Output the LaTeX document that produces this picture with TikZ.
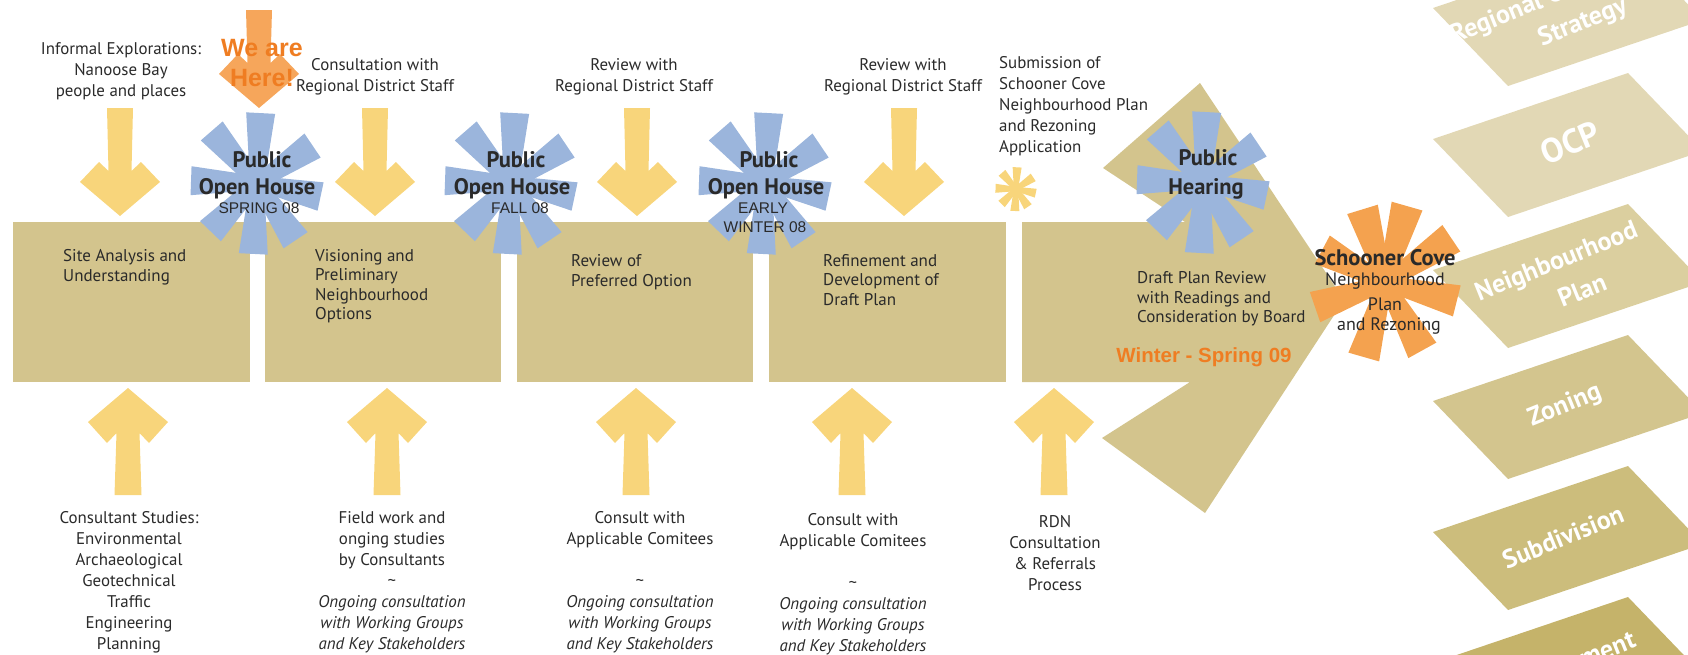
\documentclass[tikz,border=0pt]{standalone}
\usepackage{fontspec}
\setmainfont{PT Sans}
\newfontfamily\arialfont{Liberation Sans}
\definecolor{boxtan}{HTML}{D3C48D}
\definecolor{ylw}{HTML}{F8D57B}
\definecolor{blu}{HTML}{9BB5DC}
\definecolor{orgstar}{HTML}{F4A24F}
\definecolor{orgarrow}{HTML}{F6A65B}
\definecolor{orgtxt}{HTML}{EF7D22}
\definecolor{txt}{HTML}{2A2A2A}
\definecolor{pA}{HTML}{E2D8B5}
\definecolor{pB}{HTML}{DBCF9F}
\definecolor{pC}{HTML}{D3C58E}
\definecolor{pD}{HTML}{CCBD7C}
\definecolor{pE}{HTML}{C5B36A}
% fat down arrow: centre x, top y, tip y, colour
\newcommand\dnarrow[4]{\fill[#4] ({#1-13},#2) -- ({#1+13},#2) -- ({#1+11.5},{#3-45}) -- ({#1+21},{#3-54}) -- ({#1+40},{#3-34}) -- (#1,#3) -- ({#1-40},{#3-34}) -- ({#1-21},{#3-54}) -- ({#1-11.5},{#3-45}) -- cycle;}
% fat up arrow: centre x, bottom y, tip y, colour
\newcommand\uparr[4]{\fill[#4] ({#1-13.5},#2) -- ({#1+13.5},#2) -- ({#1+11.5},{#3+45}) -- ({#1+21},{#3+55}) -- ({#1+40},{#3+34}) -- (#1,#3) -- ({#1-40},{#3+34}) -- ({#1-21},{#3+55}) -- ({#1-11.5},{#3+45}) -- cycle;}
% star burst: centre, scale, colour, tip half width, list macro angle/length
\newcommand\burst[5]{\foreach \a/\r in #5 {\fill[#3,shift={#1},rotate=\a,scale=#2] (0,-7) -- (\r,-#4) -- (\r,#4) -- (0,7) -- cycle;}}
% slanted panel: left corner x, y, colour
\newcommand\panel[3]{\fill[#3] (#1,#2) -- ++(195,-66) -- ++(75,78) -- ++(-195,66) -- cycle;}
\def\bluelist{87/70, 34/67, -12/65, -56/69, -93/71, -134/67, 178/66, 131/69}
\def\orglist{107/77, 74/80, 34/80, -14/74, -61/77, -106/77, -161/74, 152/71}
\tikzset{
  body/.style={font=\fontsize{16.9}{21}\selectfont, text=txt, align=center, inner sep=0pt},
  boxlbl/.style={font=\fontsize{17}{19.5}\selectfont, text=txt, align=left, anchor=west, inner sep=0pt},
  sthead/.style={font=\bfseries\fontsize{22.5}{26}\selectfont, text=txt, inner sep=0pt},
  stsub/.style={font=\arialfont\fontsize{15.5}{19}\selectfont, text=txt, inner sep=0pt},
  orsub/.style={font=\fontsize{18}{22}\selectfont, text=txt, inner sep=0pt},
  ptxt/.style={font=\bfseries\fontsize{26}{29}\selectfont, text=white, rotate=22, inner sep=0pt},
  stagebox/.style={fill=boxtan, minimum height=160pt, anchor=north west, inner sep=0pt, draw=none},
}
\begin{document}
\begin{tikzpicture}[x=1pt,y=-1pt]
\useasboundingbox (0,0) rectangle (1688,654);
\clip (0,0) rectangle (1688,654);
% stage boxes
\node[stagebox, minimum width=237pt] (b1) at (13,222) {};
\node[stagebox, minimum width=236pt] (b2) at (265,222) {};
\node[stagebox, minimum width=236pt] (b3) at (517,222) {};
\node[stagebox, minimum width=237pt] (b4) at (769,222) {};
\fill[boxtan] (1022,222) -- (1185,222) -- (1103,168) -- (1200,83) -- (1344,300) -- (1205,513) -- (1102,438) -- (1190,382) -- (1022,382) -- cycle;
% yellow arrows
\dnarrow{120}{108}{216}{ylw}
\dnarrow{375}{108}{216}{ylw}
\dnarrow{637}{108}{216}{ylw}
\dnarrow{904}{108}{216}{ylw}
\uparr{128}{495}{388}{ylw}
\uparr{387}{495}{388}{ylw}
\uparr{636}{495}{388}{ylw}
\uparr{852}{495}{388}{ylw}
\uparr{1054}{495}{388}{ylw}
% right-hand panels
\panel{1433}{8}{pA}
\panel{1433}{139}{pA}
\panel{1433}{270}{pB}
\panel{1433}{401}{pC}
\panel{1433}{532}{pD}
\panel{1433}{663}{pE}
\node[ptxt] (rg1) at (1537,3) {Regional Growth};
\node[ptxt] (rg2) at (1583,23) {Strategy};
\node[ptxt, font=\bfseries\fontsize{34}{36}\selectfont] (ocp) at (1570,143) {OCP};
\node[ptxt] (np1) at (1557,263) {Neighbourhood};
\node[ptxt] (np2) at (1582,290) {Plan};
\node[ptxt] (zon) at (1565,406) {Zoning};
\node[ptxt] (sdv) at (1563,537) {Subdivision};
\node[ptxt] (dev) at (1566,668) {Development};
% stars
\burst{(257,183)}{1}{blu}{14.5}{\bluelist}
\burst{(511,183)}{1}{blu}{14.5}{\bluelist}
\burst{(765,183)}{1}{blu}{14.5}{\bluelist}
\burst{(1203,182)}{1}{blu}{14.5}{\bluelist}
\burst{(1016,189)}{0.31}{ylw}{14.5}{\bluelist}
\burst{(1385,283)}{1}{orgstar}{16}{\orglist}
% we are here
\dnarrow{259}{10}{108}{orgarrow}
\node[font=\arialfont\bfseries\fontsize{25}{30}\selectfont, text=orgtxt, align=center, inner sep=0pt] (here) at (262,63) {We are\\Here!};
% top texts
\node[body] (inf) at (121,71) {Informal Explorations:\\Nanoose Bay\\people and places};
\node[body] (cons) at (375,77) {Consultation with\\Regional District Staff};
\node[body] (rev1) at (634,77) {Review with\\Regional District Staff};
\node[body] (rev2) at (903,77) {Review with\\Regional District Staff};
\node[body, align=left, anchor=west] (sub) at (999,106) {Submission of\\Schooner Cove\\Neighbourhood Plan\\and Rezoning\\Application};
% box labels
\node[boxlbl] (t1) at (63,267) {Site Analysis and\\Understanding};
\node[boxlbl] (t2) at (315,286) {Visioning and\\Preliminary\\Neighbourhood\\Options};
\node[boxlbl] (t3) at (571,272) {Review of\\Preferred Option};
\node[boxlbl] (t4) at (823,280) {Refinement and\\Development of\\Draft Plan};
\node[boxlbl] (t5) at (1137,299) {Draft Plan Review\\with Readings and\\Consideration by Board};
\node[font=\arialfont\bfseries\fontsize{20.5}{24}\selectfont, text=orgtxt, inner sep=0pt] (ws) at (1204,357) {Winter - Spring 09};
% star labels
\node[sthead] (s1a) at (262,160) {Public};
\node[sthead] (s1b) at (257,189) {Open House};
\node[stsub] (s1c) at (259,208) {SPRING 08};
\node[sthead] (s2a) at (516,160) {Public};
\node[sthead] (s2b) at (512,189) {Open House};
\node[stsub] (s2c) at (520,208) {FALL 08};
\node[sthead] (s3a) at (769,160) {Public};
\node[sthead] (s3b) at (766,189) {Open House};
\node[stsub] (s3c) at (763,208) {EARLY};
\node[stsub] (s3d) at (765,227) {WINTER 08};
\node[sthead] (s4a) at (1208,158) {Public};
\node[sthead] (s4b) at (1206,189) {Hearing};
\node[sthead] (s5a) at (1385,258) {Schooner Cove};
\node[orsub] (s5b) at (1385,281) {Neighbourhood};
\node[orsub] (s5c) at (1385,304) {Plan};
\node[orsub] (s5d) at (1389,326) {and Rezoning};
% bottom texts
\node[body] (c1) at (129,582) {Consultant Studies:\\Environmental\\Archaeological\\Geotechnical\\Traffic\\Engineering\\Planning};
\node[body] (c2) at (392,582) {Field work and\\onging studies\\by Consultants\\\textasciitilde\\\textit{Ongoing consultation}\\\textit{with Working Groups}\\\textit{and Key Stakeholders}};
\node[body] (c3) at (640,582) {Consult with\\Applicable Comitees\\[21pt]\textasciitilde\\\textit{Ongoing consultation}\\\textit{with Working Groups}\\\textit{and Key Stakeholders}};
\node[body] (c4) at (853,584) {Consult with\\Applicable Comitees\\[21pt]\textasciitilde\\\textit{Ongoing consultation}\\\textit{with Working Groups}\\\textit{and Key Stakeholders}};
\node[body] (c5) at (1055,553) {RDN\\Consultation\\\& Referrals\\Process};
\end{tikzpicture}
\end{document}
